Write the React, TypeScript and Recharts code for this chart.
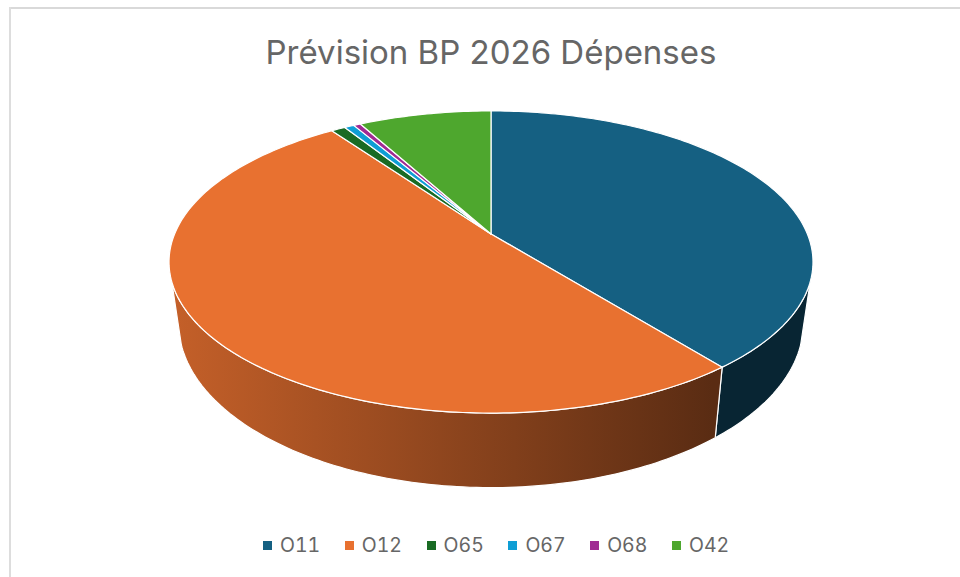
import React from "react";
import { PieChart, Pie, Cell, Legend } from "recharts";

const categories = ["O11", "O12", "O65", "O67", "O68", "O42"];
const shares = [39.25, 50.9, 0.86, 0.58, 0.42, 7.97];
const colors = ["#156082", "#E87130", "#196B24", "#0F9ED5", "#A02B93", "#4EA72E"];
const titleText = "Prévision BP 2026 Dépenses";

const tableRows = categories.map((name, i) => ({ name, value: shares[i] }));

const FONT = "Inter, 'Noto Sans', sans-serif";
const TILT = 0.1854;
const TOP_Y = 0.461;
const LOW_X = 0.97;
const LOW_Y = 0.501;
const LOW_SHIFT = 0.1865;
const WALL_FROM = 108;
const WALL_TO = 252;

const toXY = (cx: number, cy: number, r: number, theta: number, low: boolean) => {
  const rad = (theta * Math.PI) / 180;
  const u = Math.sin(rad);
  const v = Math.cos(rad);
  const d = 1 + TILT * v;
  if (low) {
    return [cx + (r * LOW_X * u) / d, cy + r * LOW_SHIFT - (r * LOW_Y * v) / d];
  }
  return [cx + (r * u) / d, cy - (r * TOP_Y * v) / d];
};

const arcPoints = (cx: number, cy: number, r: number, a: number, b: number, low: boolean) => {
  const n = Math.max(2, Math.ceil(Math.abs(b - a)));
  const pts: number[][] = [];
  for (let i = 0; i <= n; i++) pts.push(toXY(cx, cy, r, a + ((b - a) * i) / n, low));
  return pts;
};

const toPath = (pts: number[][]) =>
  pts.map((p, i) => `${i ? "L" : "M"}${p[0].toFixed(2)} ${p[1].toFixed(2)}`).join(" ");

const shade = (hex: string, f: number) => {
  const n = parseInt(hex.slice(1), 16);
  const c = [(n >> 16) & 255, (n >> 8) & 255, n & 255].map((x) => Math.round(x * f));
  return `rgb(${c[0]},${c[1]},${c[2]})`;
};

const Slice3D = (props: any) => {
  const { cx, cy, outerRadius: r, startAngle, endAngle, fill, index } = props;
  const t1 = 90 - startAngle;
  const t2 = 90 - endAngle;
  const w1 = Math.max(t1, WALL_FROM);
  const w2 = Math.min(t2, WALL_TO);
  const id = `wall-${index ?? props.name}`;
  const top = arcPoints(cx, cy, r, t1, t2, false);
  return (
    <g>
      {w2 > w1 && (
        <>
          <defs>
            <linearGradient
              id={id}
              gradientUnits="userSpaceOnUse"
              x1={cx - r * 1.02}
              x2={cx + r * 0.7}
              y1={0}
              y2={0}
            >
              <stop offset="0" stopColor={shade(fill, 0.85)} />
              <stop offset="1" stopColor={shade(fill, 0.39)} />
            </linearGradient>
          </defs>
          <path
            d={
              toPath(arcPoints(cx, cy, r, w1, w2, false)) +
              " " +
              toPath(arcPoints(cx, cy, r, w2, w1, true)).replace("M", "L") +
              " Z"
            }
            fill={`url(#${id})`}
            stroke="#fff"
            strokeWidth={1.2}
          />
        </>
      )}
      <path
        d={`M${cx} ${cy} ` + toPath(top).replace("M", "L") + " Z"}
        fill={fill}
        stroke="#fff"
        strokeWidth={1.2}
        strokeLinejoin="round"
      />
    </g>
  );
};

const LegendRow = ({ payload }: any) => (
  <div style={{ display: "flex", justifyContent: "flex-start", paddingLeft: 263 }}>
    {(payload || []).map((p: any) => (
      <div key={p.value} style={{ width: 81.8, display: "flex", alignItems: "center", height: 24 }}>
        <span style={{ width: 9, height: 9, background: p.color, display: "inline-block", marginRight: 8 }} />
        <span
          style={{
            fontFamily: FONT,
            fontSize: 19.5,
            color: "#666666",
            lineHeight: "24px",
            fontVariantNumeric: "tabular-nums",
            fontFeatureSettings: "'tnum' 1",
          }}
        >
          {p.value}
        </span>
      </div>
    ))}
  </div>
);

export default function App() {
  return (
    <div style={{ position: "absolute", left: 0, top: 0, width: 960, height: 577, background: "#fff", overflow: "hidden" }}>
      <div style={{ position: "absolute", left: 9, top: 7, width: 951, height: 2, background: "#d9d9d9" }} />
      <div style={{ position: "absolute", left: 9, top: 7, width: 2, height: 570, background: "#dddddd" }} />
      <div
        style={{
          position: "absolute",
          left: 0,
          width: 982,
          top: 32,
          textAlign: "center",
          fontFamily: FONT,
          fontSize: 33,
          lineHeight: "40px",
          color: "#666666",
        }}
      >
        {titleText}
      </div>
      <div style={{ position: "absolute", left: 0, top: 0 }}>
        <PieChart width={960} height={577} margin={{ top: 0, right: 0, bottom: 0, left: 0 }}>
          <Pie
            data={tableRows}
            dataKey="value"
            nameKey="name"
            cx={491}
            cy={234}
            outerRadius={316.4}
            startAngle={90}
            endAngle={-270}
            isAnimationActive={false}
            shape={Slice3D}
            stroke="none"
          >
            {tableRows.map((row, i) => (
              <Cell key={row.name} fill={colors[i]} />
            ))}
          </Pie>
          <Legend
            content={<LegendRow />}
            itemSorter={null}
            wrapperStyle={{ position: "absolute", left: 0, top: 533, width: 960, height: 24 }}
          />
        </PieChart>
      </div>
    </div>
  );
}
